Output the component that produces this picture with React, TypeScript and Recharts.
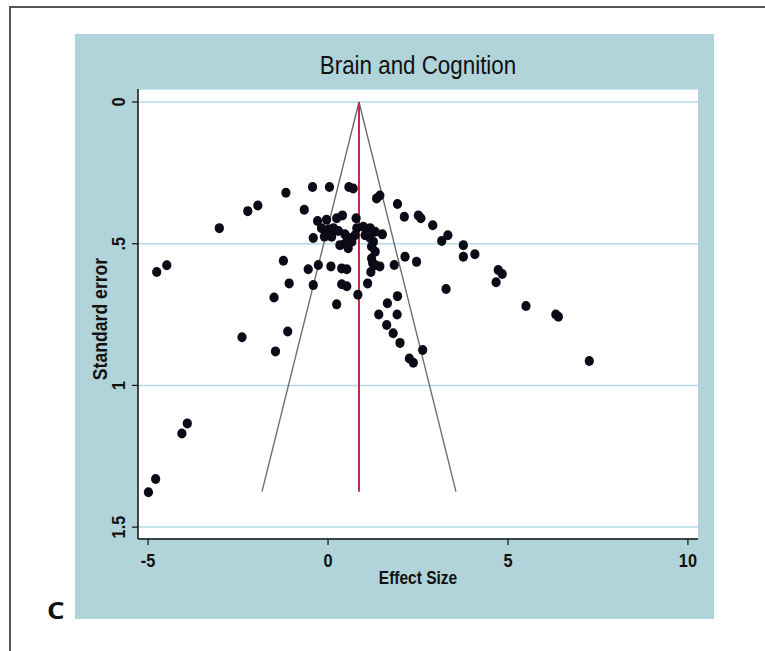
import React from "react";
import {
  ScatterChart,
  Scatter,
  XAxis,
  YAxis,
  CartesianGrid,
  ReferenceLine,
} from "recharts";

// study effect sizes and their standard errors
const effectSizes = [
  -0.43, 0.04, 0.58, 0.7, -1.17, 1.35, 1.44, -1.95, -2.23, -0.66,
  1.93, 2.12, 2.51, 2.58, 2.91, 3.16, 3.33, -3.02, 0.4, -0.29,
  -0.04, 0.24, 0.78, 0.8, -0.18, 0.01, 0.15, 0.29, -0.41, -0.1,
  0.1, 0.47, 0.61, 0.75, 0.47, 0.66, 0.56, 0.33, 0.98, 1.17,
  1.31, 1.51, 1.03, 1.17, 1.26, 1.21, 1.31, 1.21, 3.76, 4.08,
  3.76, -4.76, -4.48, -1.24, -0.55, -0.27, 0.08, 0.38, 0.52, 1.19,
  1.31, 1.44, 1.84, 2.14, 2.46, -1.08, -0.41, 0.38, 0.52, 1.1,
  0.83, 3.28, 4.73, 4.84, 4.67, -1.5, 0.24, 1.93, 1.65, 1.41,
  1.92, 1.63, 1.81, 2.0, 2.63, 2.26, 2.37, 5.5, 6.33, 6.4,
  7.26, -2.39, -1.12, -1.46, -3.91, -4.06, -4.79, -4.99, 1.24,
];

const standardErrors = [
  0.3, 0.3, 0.3, 0.305, 0.32, 0.34, 0.33, 0.365, 0.385, 0.38,
  0.36, 0.405, 0.4, 0.41, 0.435, 0.49, 0.47, 0.445, 0.4, 0.42,
  0.415, 0.41, 0.41, 0.445, 0.445, 0.45, 0.445, 0.455, 0.48, 0.475,
  0.475, 0.467, 0.48, 0.47, 0.5, 0.493, 0.516, 0.505, 0.44, 0.445,
  0.458, 0.467, 0.47, 0.48, 0.493, 0.51, 0.528, 0.552, 0.505, 0.537,
  0.546, 0.6, 0.576, 0.56, 0.59, 0.575, 0.58, 0.587, 0.59, 0.6,
  0.575, 0.58, 0.575, 0.546, 0.564, 0.64, 0.646, 0.643, 0.65, 0.64,
  0.68, 0.66, 0.593, 0.607, 0.636, 0.69, 0.714, 0.685, 0.71, 0.75,
  0.75, 0.787, 0.816, 0.85, 0.875, 0.905, 0.92, 0.72, 0.75, 0.758,
  0.914, 0.83, 0.81, 0.88, 1.134, 1.17, 1.33, 1.377, 0.568,
];

const xTicks = [-5, 0, 5, 10];
const yTicks = [0, 0.5, 1, 1.5];
const yTickLabels = ["0", ".5", "1", "1.5"];

// pooled estimate and pseudo 95% limits
const pooled = 0.86;
const seMax = 1.375;
const lowerLimit = pooled - 1.96 * seMax;
const upperLimit = pooled + 1.96 * seMax;

const points = effectSizes.map((es, i) => ({ es, se: standardErrors[i] }));

const FONT = '"Liberation Sans", Arial, sans-serif';
const BG = "#b0d4d9";
const NARROW = 0.86;

const XTick = (props: any) => {
  const { x, y, payload } = props;
  return (
    <text
      transform={`translate(${x} ${y + 20}) scale(${NARROW} 1)`}
      textAnchor="middle"
      fontSize={19}
      fontFamily={FONT}
      fontWeight={700}
      fill="#111"
    >
      {payload.value}
    </text>
  );
};

const YTick = (props: any) => {
  const { x, y, payload } = props;
  const idx = yTicks.indexOf(payload.value);
  return (
    <text
      transform={`translate(${x} ${y}) rotate(-90) scale(${NARROW} 1)`}
      textAnchor="middle"
      fontSize={19}
      fontFamily={FONT}
      fontWeight={700}
      fill="#111"
    >
      {idx >= 0 ? yTickLabels[idx] : payload.value}
    </text>
  );
};

const Dot = (props: any) => <ellipse cx={props.cx} cy={props.cy} rx={4.6} ry={5} fill="#0b0b18" />;

export default function App() {
  return (
    <div style={{ position: "absolute", left: 0, top: 0, width: 765, height: 651, background: "#fff", overflow: "hidden" }}>
      <div
        style={{
          position: "absolute",
          left: 9,
          top: 6,
          width: 800,
          height: 700,
          borderTop: "2px solid #555",
          borderLeft: "2px solid #555",
        }}
      />
      <div style={{ position: "absolute", left: 75, top: 34, width: 639, height: 585, background: BG }} />

      <div
        style={{
          position: "absolute",
          left: 75,
          top: 50,
          width: 686,
          textAlign: "center",
          fontFamily: FONT,
          fontSize: 26,
          color: "#111",
          transform: `scaleX(${NARROW})`,
        }}
      >
        Brain and Cognition
      </div>

      <div style={{ position: "absolute", left: 75, top: 34 }}>
        <ScatterChart width={639} height={585} margin={{ top: 55, right: 16, bottom: 50, left: 23 }}>
          <CartesianGrid vertical={false} fill="#ffffff" stroke="#b2dbe3" strokeWidth={1.5} />
          <XAxis
            type="number"
            dataKey="es"
            domain={[-5.28, 10.28]}
            ticks={xTicks}
            allowDataOverflow
            height={30}
            axisLine={{ stroke: "#111", strokeWidth: 1.5 }}
            tickLine={{ stroke: "#111", strokeWidth: 1.2 }}
            tickSize={6}
            tick={<XTick />}
          />
          <YAxis
            type="number"
            dataKey="se"
            domain={[-0.046, 1.542]}
            reversed
            ticks={yTicks}
            allowDataOverflow
            width={40}
            axisLine={{ stroke: "#111", strokeWidth: 1.5 }}
            tickLine={{ stroke: "#111", strokeWidth: 1.2 }}
            tickSize={6}
            tickMargin={7}
            tick={<YTick />}
          />
          <Scatter data={points} shape={<Dot />} isAnimationActive={false} />
          <ReferenceLine segment={[{ x: pooled, y: 0 }, { x: lowerLimit, y: seMax }]} stroke="#6e6e6e" strokeWidth={1.4} />
          <ReferenceLine segment={[{ x: pooled, y: 0 }, { x: upperLimit, y: seMax }]} stroke="#6e6e6e" strokeWidth={1.4} />
          <ReferenceLine segment={[{ x: pooled, y: 0 }, { x: pooled, y: seMax }]} stroke="#c42a48" strokeWidth={2} />
        </ScatterChart>
      </div>

      <div
        style={{
          position: "absolute",
          left: 75,
          top: 568,
          width: 686,
          textAlign: "center",
          fontFamily: FONT,
          fontWeight: 700,
          fontSize: 18,
          color: "#111",
          transform: `scaleX(${NARROW})`,
        }}
      >
        Effect Size
      </div>

      <div
        style={{
          position: "absolute",
          left: 100,
          top: 319,
          transform: `translate(-50%, -50%) rotate(-90deg) scaleX(${NARROW})`,
          whiteSpace: "nowrap",
          fontFamily: FONT,
          fontWeight: 700,
          fontSize: 20.5,
          color: "#111",
        }}
      >
        Standard error
      </div>

      <div
        style={{
          position: "absolute",
          left: 47,
          top: 593,
          fontFamily: '"Open Sans", sans-serif',
          fontWeight: 700,
          fontSize: 24,
          color: "#111",
          transform: "scaleX(1.15)",
          transformOrigin: "left center",
        }}
      >
        C
      </div>
    </div>
  );
}
